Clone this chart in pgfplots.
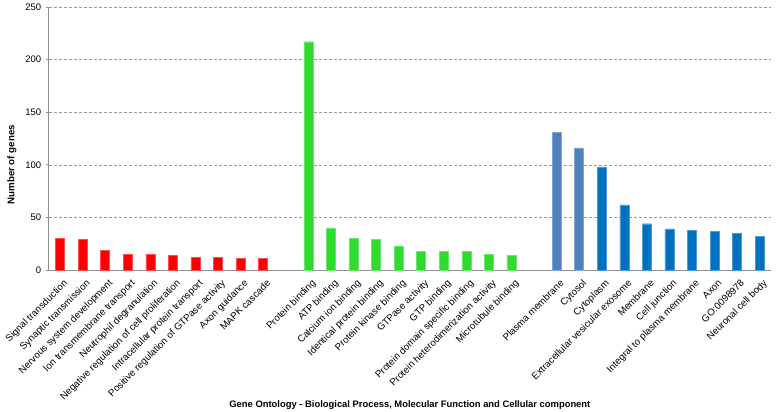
\documentclass[border=0pt]{standalone}
\usepackage{pgfplots}
\pgfplotsset{compat=1.18}
\usepackage{fontspec}
\setmainfont{Liberation Sans}
\usetikzlibrary{calc}
\definecolor{cred}{HTML}{FF0000}
\definecolor{cgreen}{HTML}{2EDC2E}
\definecolor{clblue}{HTML}{4F81BD}
\definecolor{cdblue}{HTML}{0070C0}
\definecolor{axgray}{HTML}{909090}
\begin{document}
\begin{tikzpicture}
\begin{axis}[name=ax,
  scale only axis, width=722.25pt, height=263pt,
  xmin=-0.5, xmax=31.5, ymin=0, ymax=250,
  ytick={0,50,100,150,200,250},
  axis x line*=bottom, axis y line*=left,
  axis line style={axgray, line width=0.8pt},
  every outer x axis line/.append style={-},
  every outer y axis line/.append style={-},
  ymajorgrids, grid style={gray!80, dash pattern=on 3pt off 2pt, line width=0.6pt},
  xtick style={draw=none},
  ytick style={axgray, line width=0.8pt},
  ytick align=outside, major tick length=3pt,
  /pgf/number format/assume math mode=true,
  yticklabel style={font=\fontsize{9.5}{10}\selectfont, xshift=-1pt},
  xtick={0,1,2,3,4,5,6,7,8,9,11,12,13,14,15,16,17,18,19,20,22,23,24,25,26,27,28,29,30,31},
  xticklabels={Signal transduction,Synaptic transmission,Nervous system development,Ion transmembrane transport,Neutrophil degranulation,Negative regulation of cell proliferation,Intracellular protein transport,Positive regulation of GTPase activity,Axon guidance,MAPK cascade,
  Protein binding,ATP binding,Calcium ion binding,Identical protein binding,Protein kinase binding,GTPase activity,GTP binding,Protein domain specific binding,Protein heterodimerization activity,Microtubule binding,
  Plasma membrane,Cytosol,Cytoplasm,Extracellular vesicular exosome,Membrane,Cell junction,Integral to plasma membrane,Axon,GO:0098978,Neuronal cell body},
  xticklabel style={font=\fontsize{9.7}{10}\selectfont, rotate=45, anchor=north east, inner sep=1pt, xshift=-1pt, yshift=-5pt},
  xlabel={\textbf{Gene Ontology - Biological Process, Molecular Function and Cellular component}},
  xlabel style={font=\fontsize{9.4}{10}\selectfont, at={(rel axis cs:0.5,0)}, anchor=center, yshift=-135pt},
  ylabel={\textbf{Number of genes}},
  ylabel style={font=\fontsize{9.7}{10}\selectfont, at={(rel axis cs:0,0.40)}, anchor=center, yshift=36.75pt},
  ybar, bar width=9pt, bar shift=0pt,
]
\addplot[fill=cred, draw=cred!70!white] coordinates {(0,30) (1,29) (2,19) (3,15) (4,15) (5,14) (6,12) (7,12) (8,11) (9,11)};
\addplot[fill=cgreen, draw=cgreen!70!white] coordinates {(11,217) (12,40) (13,30) (14,29) (15,23) (16,18) (17,18) (18,18) (19,15) (20,14)};
\addplot[fill=clblue, draw=clblue!70!white] coordinates {(22,131) (23,116)};
\addplot[fill=cdblue, draw=cdblue!70!white] coordinates {(24,98) (25,62) (26,44) (27,39) (28,38) (29,37) (30,35) (31,32)};
\end{axis}
\pgfresetboundingbox
\path ($(ax.south west)+(-48.75pt,-142pt)$) rectangle ($(ax.north east)+(5pt,7pt)$);
\end{tikzpicture}
\end{document}
